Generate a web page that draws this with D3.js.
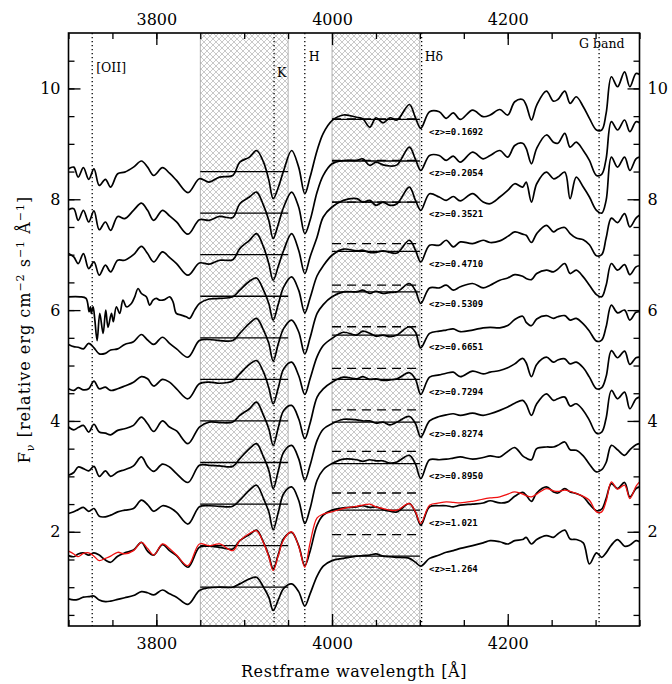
<!DOCTYPE html>
<html>
<head>
<meta charset="utf-8">
<script src="https://cdn.jsdelivr.net/npm/d3@7"></script>
<style>
  body { margin: 0; background: #fff; }
</style>
</head>
<body>
<div id="chart"></div>
<script>
// wavelength grid (Angstrom), shared by most spectra
var wave = [3700, 3706, 3711, 3717, 3723, 3729, 3735, 3742, 3748, 3756,
            3764, 3774, 3783, 3790, 3797, 3807, 3815, 3823, 3836, 3849,
            3860, 3872, 3887, 3895, 3906, 3914, 3922, 3928, 3933, 3939,
            3945, 3954, 3962, 3969, 3975, 3983, 3990, 4000, 4013, 4028,
            4035, 4043, 4050, 4058, 4066, 4074, 4088, 4095, 4101, 4111,
            4122, 4130, 4138, 4146, 4160, 4172, 4180, 4191, 4200, 4208,
            4217, 4221, 4227, 4233, 4244, 4252, 4257, 4265, 4271, 4278,
            4286, 4293, 4301, 4307, 4312, 4318, 4325, 4333, 4339, 4346, 4350];

var fluxZ0169 = [8.55, 8.58, 8.40, 8.57, 8.36, 8.55, 8.25, 8.36, 8.22, 8.46,
                 8.49, 8.58, 8.69, 8.58, 8.43, 8.57, 8.47, 8.34, 8.12, 8.37,
                 8.31, 8.40, 8.43, 8.67, 8.76, 8.88, 8.67, 8.35, 8.01, 8.22,
                 8.52, 8.88, 8.58, 8.10, 8.40, 8.88, 9.19, 9.42, 9.52, 9.48,
                 9.45, 9.30, 9.47, 9.38, 9.47, 9.43, 9.71, 9.47, 9.28, 9.58,
                 9.58, 9.46, 9.56, 9.44, 9.61, 9.49, 9.52, 9.62, 9.52, 9.76,
                 9.80, 9.70, 9.43, 9.70, 9.95, 9.77, 9.80, 9.95, 9.73, 9.85,
                 9.67, 9.46, 9.25, 9.25, 9.55, 10.21, 10.03, 10.30, 10.03, 10.27, 10.25];

var fluxZ0205 = [7.81, 7.83, 7.62, 7.80, 7.59, 7.79, 7.45, 7.59, 7.44, 7.69,
                 7.65, 7.80, 7.93, 7.80, 7.62, 7.80, 7.70, 7.59, 7.37, 7.63,
                 7.62, 7.69, 7.67, 7.92, 8.04, 8.13, 7.89, 7.62, 7.29, 7.56,
                 7.86, 8.13, 7.86, 7.38, 7.62, 8.13, 8.43, 8.64, 8.70, 8.70,
                 8.73, 8.61, 8.67, 8.62, 8.60, 8.62, 8.94, 8.72, 8.52, 8.79,
                 8.79, 8.70, 8.78, 8.67, 8.85, 8.73, 8.79, 8.88, 8.76, 8.97,
                 9.01, 8.92, 8.64, 8.92, 9.16, 9.03, 9.01, 9.19, 8.94, 9.03,
                 8.88, 8.70, 8.43, 8.45, 8.73, 9.40, 9.25, 9.43, 9.22, 9.40, 9.38];

var fluxZ0352 = [7.02, 6.96, 6.84, 7.02, 6.75, 6.87, 6.63, 6.81, 6.69, 6.90,
                 6.90, 7.00, 7.15, 7.02, 6.87, 7.05, 6.95, 6.84, 6.63, 6.85,
                 6.83, 6.90, 6.91, 7.11, 7.26, 7.38, 7.14, 6.84, 6.54, 6.80,
                 7.08, 7.38, 7.08, 6.66, 6.96, 7.32, 7.68, 7.86, 7.98, 8.01,
                 7.95, 7.98, 7.89, 7.95, 7.89, 7.92, 8.22, 7.98, 7.80, 8.10,
                 8.04, 7.98, 8.05, 7.97, 8.10, 7.95, 7.92, 8.04, 8.16, 8.28,
                 8.22, 8.31, 7.95, 8.28, 8.49, 8.37, 8.40, 8.49, 8.01, 8.40,
                 8.22, 8.04, 7.80, 7.75, 7.98, 8.76, 8.58, 8.76, 8.52, 8.73, 8.76];

// the <z>=0.4710 spectrum is sampled more finely around the noisy [OII] region
var waveZ0471 = [3700, 3713, 3720, 3723.5, 3725, 3726, 3728, 3730, 3732.6, 3735.6,
                 3739.4, 3742.4, 3745, 3748.9, 3751, 3754.5, 3758.3, 3762, 3766, 3771.6,
                 3775.4, 3779.2, 3783, 3788.6, 3792.4, 3796.2, 3800, 3803.8, 3809.5, 3815.2,
                 3819, 3822.7, 3828.4, 3834, 3837.9, 3843.6, 3849.2,
                 3860, 3872, 3887, 3895, 3906, 3914, 3922, 3928, 3933, 3939,
                 3945, 3954, 3962, 3969, 3975, 3983, 3990, 4000, 4013, 4028,
                 4035, 4043, 4050, 4058, 4066, 4074, 4088, 4095, 4101, 4111,
                 4122, 4130, 4138, 4146, 4160, 4172, 4180, 4191, 4200, 4208,
                 4217, 4221, 4227, 4233, 4244, 4252, 4257, 4265, 4271, 4278,
                 4286, 4293, 4301, 4307, 4312, 4318, 4325, 4333, 4339, 4346, 4350];

var fluxZ0471 = [6.24, 6.24, 6.21, 5.97, 6.06, 5.94, 6.06, 5.82, 5.45, 5.94,
                 5.58, 6.00, 5.69, 5.94, 5.79, 6.06, 5.94, 6.18, 6.06, 6.12,
                 6.24, 6.39, 6.30, 6.24, 6.09, 6.18, 6.21, 6.18, 6.19, 6.24,
                 6.15, 5.94, 5.91, 5.88, 5.85, 6.00, 6.12,
                 6.20, 6.21, 6.24, 6.36, 6.52, 6.58, 6.36, 6.12, 5.82, 6.12,
                 6.42, 6.60, 6.36, 5.95, 6.22, 6.62, 6.80, 6.99, 7.10, 7.07,
                 7.08, 7.04, 7.04, 7.07, 7.04, 7.03, 7.26, 7.08, 6.87, 7.17,
                 7.17, 7.26, 7.14, 7.23, 7.20, 7.26, 7.22, 7.25, 7.33, 7.41,
                 7.37, 7.35, 7.22, 7.38, 7.53, 7.41, 7.46, 7.49, 7.38, 7.30,
                 7.27, 7.18, 6.98, 7.00, 7.30, 7.66, 7.58, 7.74, 7.50, 7.66, 7.71];

var fluxZ0531 = [5.38, 5.34, 5.33, 5.30, 5.40, 5.32, 5.21, 5.22, 5.28, 5.30,
                 5.38, 5.43, 5.56, 5.46, 5.38, 5.51, 5.40, 5.30, 5.15, 5.45,
                 5.47, 5.45, 5.45, 5.58, 5.76, 5.85, 5.64, 5.40, 5.08, 5.40,
                 5.67, 5.82, 5.61, 5.21, 5.50, 5.94, 6.10, 6.24, 6.33, 6.33,
                 6.36, 6.30, 6.34, 6.30, 6.32, 6.33, 6.48, 6.35, 6.12, 6.40,
                 6.40, 6.45, 6.36, 6.42, 6.48, 6.40, 6.45, 6.54, 6.58, 6.64,
                 6.61, 6.57, 6.55, 6.66, 6.72, 6.69, 6.74, 6.84, 6.66, 6.72,
                 6.60, 6.45, 6.28, 6.24, 6.45, 6.84, 6.72, 6.82, 6.64, 6.78, 6.80];

var fluxZ0665 = [4.58, 4.55, 4.60, 4.56, 4.58, 4.72, 4.58, 4.61, 4.55, 4.58,
                 4.63, 4.70, 4.80, 4.76, 4.63, 4.75, 4.70, 4.58, 4.40, 4.67,
                 4.70, 4.68, 4.72, 4.85, 5.02, 5.09, 4.88, 4.60, 4.31, 4.61,
                 4.94, 5.06, 4.82, 4.48, 4.76, 5.16, 5.36, 5.49, 5.60, 5.55,
                 5.62, 5.58, 5.53, 5.55, 5.52, 5.55, 5.70, 5.60, 5.32, 5.58,
                 5.62, 5.64, 5.66, 5.61, 5.64, 5.68, 5.69, 5.68, 5.72, 5.83,
                 5.89, 5.78, 5.72, 5.84, 5.90, 5.85, 5.88, 5.90, 5.82, 5.85,
                 5.75, 5.62, 5.44, 5.46, 5.70, 6.09, 5.95, 6.00, 5.82, 5.96, 5.97];

var fluxZ0729 = [3.89, 3.84, 3.88, 3.92, 3.80, 3.94, 3.80, 3.78, 3.75, 3.83,
                 3.86, 3.92, 4.07, 3.95, 3.81, 4.00, 3.89, 3.82, 3.59, 3.89,
                 3.98, 3.97, 3.98, 4.10, 4.22, 4.34, 4.10, 3.86, 3.56, 3.89,
                 4.19, 4.28, 4.04, 3.68, 3.96, 4.43, 4.58, 4.70, 4.79, 4.76,
                 4.80, 4.75, 4.76, 4.73, 4.74, 4.76, 4.87, 4.75, 4.48, 4.79,
                 4.83, 4.86, 4.88, 4.80, 4.90, 4.85, 4.88, 4.91, 4.96, 5.03,
                 5.13, 5.05, 4.80, 5.02, 5.15, 5.06, 5.10, 5.12, 5.03, 5.06,
                 4.96, 4.79, 4.58, 4.60, 4.80, 5.27, 5.14, 5.26, 5.02, 5.14, 5.15];

var fluxZ0827 = [3.02, 3.07, 3.17, 3.14, 3.10, 3.18, 3.00, 3.10, 3.00, 3.08,
                 3.12, 3.19, 3.35, 3.18, 3.09, 3.22, 3.17, 3.05, 2.89, 3.20,
                 3.20, 3.19, 3.18, 3.32, 3.50, 3.59, 3.35, 3.11, 2.78, 3.11,
                 3.44, 3.56, 3.32, 2.93, 3.20, 3.65, 3.85, 3.95, 4.03, 4.02,
                 4.00, 4.00, 3.96, 3.98, 3.93, 3.98, 4.08, 3.95, 3.71, 4.00,
                 4.08, 4.11, 4.13, 4.10, 4.14, 4.10, 4.13, 4.19, 4.25, 4.32,
                 4.37, 4.30, 4.10, 4.31, 4.49, 4.37, 4.40, 4.43, 4.27, 4.31,
                 4.19, 4.01, 3.78, 3.80, 4.05, 4.55, 4.40, 4.52, 4.22, 4.40, 4.43];

var fluxZ0895 = [2.33, 2.36, 2.40, 2.44, 2.37, 2.42, 2.28, 2.27, 2.30, 2.36,
                 2.39, 2.42, 2.57, 2.49, 2.37, 2.47, 2.44, 2.35, 2.14, 2.45,
                 2.47, 2.46, 2.46, 2.57, 2.75, 2.84, 2.60, 2.36, 2.04, 2.36,
                 2.69, 2.81, 2.57, 2.15, 2.42, 2.93, 3.12, 3.23, 3.31, 3.30,
                 3.27, 3.30, 3.28, 3.28, 3.24, 3.26, 3.38, 3.22, 2.96, 3.30,
                 3.30, 3.31, 3.33, 3.35, 3.31, 3.34, 3.37, 3.35, 3.45, 3.52,
                 3.37, 3.33, 3.30, 3.50, 3.53, 3.53, 3.56, 3.62, 3.48, 3.47,
                 3.37, 3.22, 3.08, 3.12, 3.25, 3.56, 3.48, 3.38, 3.48, 3.57, 3.59];

var fluxZ1021 = [1.57, 1.55, 1.60, 1.62, 1.58, 1.62, 1.58, 1.49, 1.45, 1.56,
                 1.62, 1.67, 1.81, 1.65, 1.58, 1.77, 1.66, 1.57, 1.36, 1.72,
                 1.74, 1.72, 1.69, 1.84, 1.95, 2.03, 1.81, 1.57, 1.33, 1.60,
                 1.88, 1.99, 1.75, 1.39, 1.65, 2.12, 2.30, 2.39, 2.43, 2.45,
                 2.47, 2.44, 2.45, 2.40, 2.37, 2.36, 2.51, 2.35, 2.12, 2.45,
                 2.47, 2.47, 2.45, 2.48, 2.50, 2.52, 2.56, 2.52, 2.54, 2.64,
                 2.71, 2.66, 2.55, 2.70, 2.81, 2.72, 2.70, 2.78, 2.72, 2.69,
                 2.63, 2.50, 2.38, 2.41, 2.60, 2.87, 2.78, 2.89, 2.63, 2.78, 2.81];

// red comparison curve over the <z>=1.021 spectrum
var modelZ1021 = [1.65, 1.60, 1.55, 1.61, 1.62, 1.56, 1.48, 1.52, 1.56, 1.63,
                  1.60, 1.66, 1.81, 1.70, 1.58, 1.78, 1.70, 1.58, 1.39, 1.78,
                  1.75, 1.78, 1.66, 1.84, 1.97, 2.02, 1.80, 1.55, 1.30, 1.58,
                  1.86, 2.00, 1.74, 1.36, 1.80, 2.25, 2.32, 2.36, 2.42, 2.46,
                  2.48, 2.50, 2.45, 2.42, 2.39, 2.39, 2.51, 2.36, 2.15, 2.48,
                  2.52, 2.54, 2.53, 2.52, 2.55, 2.59, 2.61, 2.63, 2.68, 2.72,
                  2.68, 2.65, 2.63, 2.68, 2.78, 2.74, 2.73, 2.75, 2.73, 2.69,
                  2.64, 2.57, 2.36, 2.36, 2.55, 2.90, 2.77, 2.84, 2.60, 2.82, 2.90];

var fluxZ1264 = [0.79, 0.77, 0.78, 0.82, 0.83, 0.84, 0.77, 0.74, 0.75, 0.78,
                 0.81, 0.85, 0.92, 0.90, 0.86, 0.95, 0.88, 0.82, 0.69, 0.94,
                 0.99, 1.00, 1.00, 1.06, 1.15, 1.18, 1.00, 0.82, 0.58, 0.78,
                 0.98, 1.06, 0.92, 0.66, 0.88, 1.20, 1.38, 1.48, 1.52, 1.56,
                 1.57, 1.58, 1.60, 1.56, 1.55, 1.54, 1.52, 1.45, 1.38, 1.52,
                 1.58, 1.63, 1.66, 1.70, 1.75, 1.80, 1.84, 1.82, 1.78, 1.84,
                 1.86, 1.90, 1.78, 1.86, 1.93, 1.90, 1.96, 2.03, 1.87, 1.86,
                 1.80, 1.42, 1.62, 1.54, 1.62, 1.76, 1.86, 1.74, 1.76, 1.84, 1.82];

var redshiftLabels = ["0.1692", "0.2054", "0.3521", "0.4710", "0.5309", "0.6651",
                      "0.7294", "0.8274", "0.8950", "1.021", "1.264"];

// mean levels in the two windows, and the dashed reference level in the red window
var blueLevel = [8.50, 7.75, 7.00, 6.25, 5.50, 4.75, 4.00, 3.25, 2.50, 1.75, 1.00];
var redLevel  = [9.44, 8.69, 7.95, 7.06, 6.33, 5.55, 4.75, 3.98, 3.23, 2.39, 1.56];
var refLevel  = [9.45, 8.70, 7.95, 7.20, 6.45, 5.70, 4.95, 4.20, 3.45, 2.70, 1.95];

var blueWindow = [3850, 3950];
var redWindow = [4000, 4100];

var lineNames = ["[OII]", "K", "H", "H\u03b4", "G band"];
var lineWaves = [3727, 3934, 3969, 4102, 4304];

var xTicksMajor = [3800, 4000, 4200];
var yTicksMajor = [2, 4, 6, 8, 10];

var width = 672;
var height = 684;
var plotLeft = 68.5, plotRight = 639.5, plotTop = 33, plotBottom = 626;

var x = d3.scaleLinear().domain([3700, 4350]).range([plotLeft, plotRight]);
var y = d3.scaleLinear().domain([0.3, 11]).range([plotBottom, plotTop]);

var svg = d3.select("#chart")
    .append("svg")
    .attr("width", width)
    .attr("height", height)

svg.append("rect")
    .attr("width", width)
    .attr("height", height)
    .attr("fill", "white")

var defs = svg.append("defs")

var hatch = defs.append("pattern")
    .attr("id", "hatch")
    .attr("patternUnits", "userSpaceOnUse")
    .attr("width", 6)
    .attr("height", 6)
hatch.append("path")
    .attr("d", "M0,0L6,6M6,0L0,6")
    .attr("stroke", "#b2b2b2")
    .attr("stroke-width", 0.7)

defs.append("clipPath").attr("id", "plotClip")
    .append("rect")
    .attr("x", plotLeft).attr("y", plotTop)
    .attr("width", plotRight - plotLeft).attr("height", plotBottom - plotTop)

var plot = svg.append("g").attr("clip-path", "url(#plotClip)")

// hatched windows
plot.selectAll(".window")
    .data([blueWindow, redWindow])
    .enter().append("rect")
    .attr("class", "window")
    .attr("x", function(d) { return x(d[0]); })
    .attr("y", plotTop)
    .attr("width", function(d) { return x(d[1]) - x(d[0]); })
    .attr("height", plotBottom - plotTop)
    .attr("fill", "url(#hatch)")
    .style("stroke", "#a0a0a0")
    .style("stroke-width", "0.8px")

// dotted feature lines
plot.selectAll(".feature")
    .data(lineWaves)
    .enter().append("line")
    .attr("class", "feature")
    .attr("x1", function(d) { return x(d); })
    .attr("x2", function(d) { return x(d); })
    .attr("y1", plotTop)
    .attr("y2", plotBottom)
    .style("stroke", "black")
    .style("stroke-width", "1.3px")
    .style("stroke-dasharray", "1.3,2.7")

// window levels
var levels = plot.append("g")
levels.selectAll(".blueLevel")
    .data(blueLevel)
    .enter().append("line")
    .attr("x1", x(blueWindow[0])).attr("x2", x(blueWindow[1]))
    .attr("y1", function(d) { return y(d); })
    .attr("y2", function(d) { return y(d); })
    .style("stroke", "black").style("stroke-width", "1.3px")

levels.selectAll(".refLevel")
    .data(refLevel)
    .enter().append("line")
    .attr("x1", x(redWindow[0])).attr("x2", x(redWindow[1]))
    .attr("y1", function(d) { return y(d); })
    .attr("y2", function(d) { return y(d); })
    .style("stroke", "black").style("stroke-width", "1.3px")
    .style("stroke-dasharray", "9,6")

levels.selectAll(".redLevel")
    .data(redLevel)
    .enter().append("line")
    .attr("x1", x(redWindow[0])).attr("x2", x(redWindow[1]))
    .attr("y1", function(d) { return y(d); })
    .attr("y2", function(d) { return y(d); })
    .style("stroke", "black").style("stroke-width", "1.3px")

// spectra: [wavelengths, fluxes]
var spectra = [[wave, fluxZ0169], [wave, fluxZ0205], [wave, fluxZ0352], [waveZ0471, fluxZ0471],
               [wave, fluxZ0531], [wave, fluxZ0665], [wave, fluxZ0729], [wave, fluxZ0827],
               [wave, fluxZ0895], [wave, fluxZ1021], [wave, fluxZ1264]];

var spectrumLine = d3.line()
    .x(function(d) { return x(d[0]); })
    .y(function(d) { return y(d[1]); })
    .curve(d3.curveCatmullRom.alpha(0.5))

plot.selectAll(".spectrum")
    .data(spectra)
    .enter().append("path")
    .attr("class", "spectrum")
    .attr("d", function(d) { return spectrumLine(d3.zip(d[0], d[1])); })
    .attr("fill", "none")
    .style("stroke", "black")
    .style("stroke-width", "1.7px")
    .style("stroke-linejoin", "round")

plot.append("path")
    .attr("d", spectrumLine(d3.zip(wave, modelZ1021)))
    .attr("fill", "none")
    .style("stroke", "#f01010")
    .style("stroke-width", "1.3px")

// redshift labels
svg.selectAll(".zlabel")
    .data(redshiftLabels)
    .enter().append("text")
    .attr("class", "zlabel")
    .attr("x", 429)
    .attr("y", function(d, i) { return y(redLevel[i] - 0.22) + 3.2; })
    .style("font-family", "'DejaVu Sans Mono', monospace")
    .style("font-weight", "bold")
    .style("font-size", "9px")
    .text(function(d) { return "<z>=" + d; })

// feature labels
var labelPos = [[4, 72], [3, 77], [4, 61], [3, 61], [-20, 48]];
svg.selectAll(".flabel")
    .data(lineNames)
    .enter().append("text")
    .attr("class", "flabel")
    .attr("x", function(d, i) { return x(lineWaves[i]) + labelPos[i][0]; })
    .attr("y", function(d, i) { return labelPos[i][1]; })
    .style("font-family", "'DejaVu Serif', serif")
    .style("font-size", "12.5px")
    .text(function(d) { return d; })

// axes
var minorX = d3.range(3700, 4351, 50);
var minorY = d3.range(0.5, 10.99, 0.5);

function styleAxis(g, labels) {
    g.select(".domain").remove()
    g.selectAll("line").style("stroke", "black").style("stroke-width", "1.3px")
    g.selectAll("text")
        .style("font-family", "'DejaVu Serif', serif")
        .style("font-size", "16px")
        .style("fill", "black")
    if (!labels) g.selectAll("text").remove()
}

svg.append("g").attr("transform", "translate(0," + plotBottom + ")")
    .call(d3.axisBottom(x).tickValues(minorX).tickSize(-6).tickFormat(""))
    .call(styleAxis, false)
svg.append("g").attr("transform", "translate(0," + plotTop + ")")
    .call(d3.axisTop(x).tickValues(minorX).tickSize(-6).tickFormat(""))
    .call(styleAxis, false)
svg.append("g").attr("transform", "translate(0," + plotBottom + ")")
    .call(d3.axisBottom(x).tickValues(xTicksMajor).tickSize(-12).tickPadding(12).tickFormat(d3.format("d")))
    .call(styleAxis, true)
svg.append("g").attr("transform", "translate(0," + plotTop + ")")
    .call(d3.axisTop(x).tickValues(xTicksMajor).tickSize(-12).tickPadding(8).tickFormat(d3.format("d")))
    .call(styleAxis, true)

svg.append("g").attr("transform", "translate(" + plotLeft + ",0)")
    .call(d3.axisLeft(y).tickValues(minorY).tickSize(-6).tickFormat(""))
    .call(styleAxis, false)
svg.append("g").attr("transform", "translate(" + plotRight + ",0)")
    .call(d3.axisRight(y).tickValues(minorY).tickSize(-6).tickFormat(""))
    .call(styleAxis, false)
svg.append("g").attr("transform", "translate(" + plotLeft + ",0)")
    .call(d3.axisLeft(y).tickValues(yTicksMajor).tickSize(-12).tickPadding(8).tickFormat(d3.format("d")))
    .call(styleAxis, true)
svg.append("g").attr("transform", "translate(" + plotRight + ",0)")
    .call(d3.axisRight(y).tickValues(yTicksMajor).tickSize(-12).tickPadding(8).tickFormat(d3.format("d")))
    .call(styleAxis, true)

// frame
svg.append("rect")
    .attr("x", plotLeft).attr("y", plotTop)
    .attr("width", plotRight - plotLeft).attr("height", plotBottom - plotTop)
    .attr("fill", "none")
    .style("stroke", "black")
    .style("stroke-width", "1.6px")

// axis titles
svg.append("text")
    .attr("x", (plotLeft + plotRight) / 2)
    .attr("y", 677)
    .attr("text-anchor", "middle")
    .style("font-family", "'DejaVu Serif', serif")
    .style("font-size", "16px")
    .style("letter-spacing", "0.6px")
    .text("Restframe wavelength [\u00c5]")

var ylab = svg.append("text")
    .attr("transform", "translate(30," + ((plotTop + plotBottom) / 2) + ") rotate(-90)")
    .attr("text-anchor", "middle")
    .style("font-family", "'DejaVu Serif', serif")
    .style("font-size", "16px")
    .style("letter-spacing", "1px")
ylab.append("tspan").text("F")
ylab.append("tspan").attr("dy", 4).style("font-size", "11px").text("\u03bd")
ylab.append("tspan").attr("dy", -4).text(" [relative erg cm")
ylab.append("tspan").attr("dy", -6).style("font-size", "11px").text("\u22122")
ylab.append("tspan").attr("dy", 6).text(" s")
ylab.append("tspan").attr("dy", -6).style("font-size", "11px").text("\u22121")
ylab.append("tspan").attr("dy", 6).text(" \u00c5")
ylab.append("tspan").attr("dy", -6).style("font-size", "11px").text("\u22121")
ylab.append("tspan").attr("dy", 6).text("]")
</script>
</body>
</html>
